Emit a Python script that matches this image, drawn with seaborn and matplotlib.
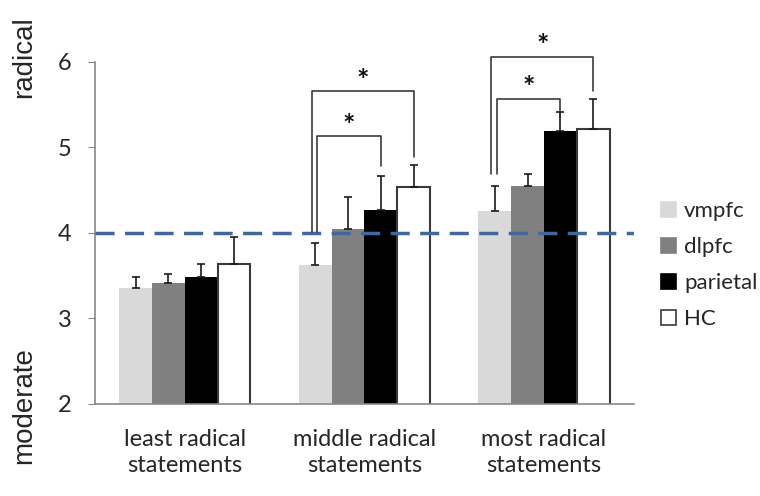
import numpy as np
import pandas as pd
import seaborn as sns
import matplotlib.pyplot as plt
from matplotlib.patches import Patch

groups = ['least radical\nstatements', 'middle radical\nstatements', 'most radical\nstatements']
regions = ['vmpfc', 'dlpfc', 'parietal', 'HC']
means = {
    'vmpfc':    [3.36, 3.63, 4.26],
    'dlpfc':    [3.41, 4.05, 4.55],
    'parietal': [3.49, 4.27, 5.19],
    'HC':       [3.64, 4.54, 5.22],
}
errs = {
    'vmpfc':    [0.13, 0.25, 0.29],
    'dlpfc':    [0.11, 0.37, 0.14],
    'parietal': [0.15, 0.40, 0.22],
    'HC':       [0.31, 0.26, 0.35],
}
colors = {'vmpfc': '#d9d9d9', 'dlpfc': '#808080', 'parietal': '#000000', 'HC': '#ffffff'}

# significance brackets: (group index, right region, left foot, top, right foot)
brackets = [
    (1, 'parietal', 4.01, 5.13, 4.78),
    (1, 'HC',       4.01, 5.66, 4.89),
    (2, 'parietal', 4.69, 5.57, 5.34),
    (2, 'HC',       4.69, 6.06, 5.66),
]

rows = []
for r in regions:
    for g, m in zip(groups, means[r]):
        rows.append({'group': g, 'region': r, 'mean': m})
df = pd.DataFrame(rows)

sns.set_style('white')
plt.rcParams['font.family'] = ['Lato', 'DejaVu Sans']

fig = plt.figure(figsize=(7.6, 4.96), dpi=100)
ax = fig.add_axes([0.125, 0.1855, 0.709, 0.6895])

sns.barplot(data=df, x='group', y='mean', hue='region', order=groups,
            hue_order=regions, palette=colors, width=0.73, errorbar=None,
            saturation=1, legend=False, linewidth=0, ax=ax)

centers = {}
for r, cont in zip(regions, ax.containers):
    xs = []
    for i, bar in enumerate(cont):
        x = bar.get_x() + bar.get_width() / 2
        xs.append(x)
        if r == 'HC':
            bar.set_edgecolor('#3a3a3a')
            bar.set_linewidth(1.5)
        ax.errorbar(x, means[r][i], yerr=[[0], [errs[r][i]]], fmt='none',
                    ecolor='#1a1a1a', elinewidth=1.2, capsize=3, capthick=1.2,
                    zorder=1)
    centers[r] = xs

ax.axhline(4, color='#41689a', lw=2.5, ls=(0, (5.5, 3)), zorder=5)

for gi, right, lfoot, top, rfoot in brackets:
    x0 = centers['vmpfc'][gi] + (0.01 if right == 'parietal' else -0.02)
    x1 = centers[right][gi]
    ax.plot([x0, x0, x1, x1], [lfoot, top, top, rfoot], color='#2a2a2a',
            lw=1.1, clip_on=False, zorder=6)
    ax.text((x0 + x1) / 2, top - 0.03, '*', ha='center', va='bottom',
            fontsize=21, fontweight='bold', color='#111111', clip_on=False)

ax.set_ylim(2, 6)
ax.set_xlim(-0.5, 2.5)
ax.set_yticks([2, 3, 4, 5, 6])
ax.set_xticks([0, 1, 2])
ax.set_xticklabels(groups, fontsize=17, linespacing=1.3)
ax.set_xticks([-0.5, 0.5, 1.5, 2.5], minor=True)
ax.tick_params(axis='x', which='major', length=0, pad=18)
ax.tick_params(axis='x', which='minor', length=5, color='#888888', direction='out')
ax.tick_params(axis='y', labelsize=17, length=5, color='#888888', direction='out',
               left=True, pad=12)
ax.set_xlabel('')
ax.set_ylabel('')
sns.despine(ax=ax)
for s in ['left', 'bottom']:
    ax.spines[s].set_color('#888888')
    ax.spines[s].set_linewidth(1.2)

fig.text(0.032, 0.885, 'radical', rotation=90, ha='center', va='center',
         fontsize=20, family=['Liberation Sans', 'DejaVu Sans'])
fig.text(0.032, 0.183, 'moderate', rotation=90, ha='center', va='center',
         fontsize=20, family=['Liberation Sans', 'DejaVu Sans'])

handles = [Patch(facecolor=colors[r], edgecolor='#3a3a3a' if r == 'HC' else colors[r],
                 linewidth=1.2) for r in regions]
fig.legend(handles, regions, loc='center left', bbox_to_anchor=(0.843, 0.465),
           frameon=False, fontsize=16, handlelength=0.7, handleheight=0.7,
           handletextpad=0.35, labelspacing=0.72)

fig.savefig('out.png', dpi=100)
